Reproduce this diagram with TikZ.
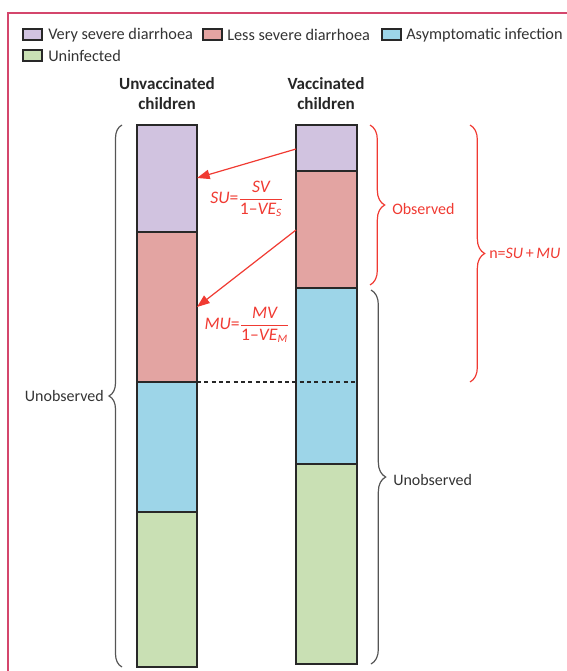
\documentclass[tikz,border=0pt]{standalone}
\usepackage{fontspec}
\setmainfont{Carlito}
\usepackage{amsmath}
\usetikzlibrary{decorations.pathreplacing,arrows.meta}
\definecolor{purp}{RGB}{209,195,224}
\definecolor{pinkc}{RGB}{227,164,162}
\definecolor{bluec}{RGB}{157,213,232}
\definecolor{greenc}{RGB}{201,224,180}
\definecolor{framec}{RGB}{212,70,108}
\definecolor{annot}{RGB}{240,58,50}
\definecolor{outl}{RGB}{40,40,40}
\definecolor{braceg}{RGB}{85,85,85}
\begin{document}
\begin{tikzpicture}[x=0.75pt,y=-0.75pt,
  seg/.style={draw=outl,line width=1pt},
  keybox/.style={draw=outl,line width=0.9pt},
  lab/.style={font=\fontsize{12}{14}\selectfont, inner sep=0pt},
  leg/.style={font=\fontsize{12.2}{14}\selectfont, inner sep=0pt, anchor=west, text=black!80},
  frm/.style={font=\fontsize{13.2}{15}\selectfont, inner sep=0pt, text=annot},
  ttl/.style={font=\fontsize{12.8}{15}\selectfont\bfseries, inner sep=0pt, align=center, text=black!85},
  brc/.style={decorate, decoration={brace, amplitude=#1}, line width=0.9pt},
  redarrow/.style={draw=annot, line width=0.9pt, -{Triangle[length=9.5pt,width=7pt]}}
]
\useasboundingbox (0,0) rectangle (567,671);
% frame
\draw[framec, line width=0.9pt] (567,13) -- (8,13) -- (8,671);
% legend
\draw[keybox, fill=purp] (23,29) rectangle (42,40);
\node[leg] (l1) at (48,35) {Very severe diarrhoea};
\draw[keybox, fill=pinkc] (203,29) rectangle (222,40);
\node[leg] (l2) at (227,35) {Less severe diarrhoea};
\draw[keybox, fill=bluec] (382,29) rectangle (401,40);
\node[leg] (l3) at (406,35) {Asymptomatic infection};
\draw[keybox, fill=greenc] (23,50) rectangle (42,61);
\node[leg] (l4) at (48,56) {Uninfected};
% titles
\node[ttl] (t1) at (167,94) {Unvaccinated\\children};
\node[ttl] (t2) at (326,94) {Vaccinated\\children};
% unvaccinated bar
\draw[seg, fill=purp] (137,125) rectangle (197,232);
\draw[seg, fill=pinkc] (137,232) rectangle (197,382);
\draw[seg, fill=bluec] (137,382) rectangle (197,512);
\draw[seg, fill=greenc] (137,512) rectangle (197,667);
% vaccinated bar
\draw[seg, fill=purp] (296,125) rectangle (357,171);
\draw[seg, fill=pinkc] (296,171) rectangle (357,288);
\draw[seg, fill=bluec] (296,288) rectangle (357,464);
\draw[seg, fill=greenc] (296,464) rectangle (357,664);
% dashed line
\coordinate (d1) at (197,382);
\coordinate (d2) at (357,382);
\draw[black!85, line width=0.8pt, dash pattern=on 3pt off 2.5pt] (d1) -- (d2);
% arrows
\coordinate (a1s) at (296,149);
\coordinate (a1e) at (197,178);
\coordinate (a2s) at (296,230);
\coordinate (a2e) at (197,307);
\draw[redarrow] (a1s) -- (a1e);
\draw[redarrow] (a2s) -- (a2e);
% formulas
\node[frm] (fsu) at (247,199) {$\displaystyle\mbox{\itshape SU}\mbox{=}\frac{\mbox{\itshape SV}}{\mbox{1–\itshape VE\textsubscript{\fontsize{8.5}{9}\selectfont S}}}$};
\node[frm] (fmu) at (247,325) {$\displaystyle\mbox{\itshape MU}\mbox{=}\frac{\mbox{\itshape MV}}{\mbox{1–\itshape VE\textsubscript{\fontsize{8.5}{9}\selectfont M}}}$};
% braces
\draw[brc=9.75pt, braceg] (122,667) -- (122,125);
\node[lab, anchor=east, text=black!80] (u1) at (104,396) {Unobserved};
\draw[brc=11pt, annot] (370,125) -- (370,285);
\node[lab, anchor=west, text=annot] (obs) at (392,209) {Observed};
\draw[brc=11pt, braceg] (371,290) -- (371,664);
\node[lab, anchor=west, text=black!80] (u2) at (393,480) {Unobserved};
\draw[brc=11pt, annot] (470,125) -- (470,382);
\node[lab, anchor=west, text=annot] (nn) at (489,253) {n=\textit{SU}\,+\,\textit{MU}};
\end{tikzpicture}
\end{document}
